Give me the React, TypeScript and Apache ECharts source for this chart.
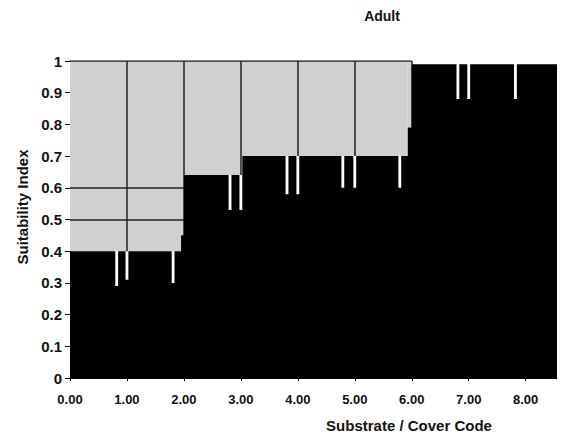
import React, { useEffect, useRef } from "react";
import * as echarts from "echarts";

// Step profile of the suitability curve (value holds from each start to the next)
const segStart = [0, 1.95, 2.0, 3.0, 5.93, 6.0];
const segValue = [0.4, 0.45, 0.64, 0.7, 0.79, 0.99];
const xEnd = 8.55;

// Narrow dips in the curve
const dipAt = [0.82, 1.0, 1.81, 2.81, 3.0, 3.81, 4.0, 4.79, 5.0, 5.79, 6.81, 7.0, 7.82];
const dipValue = [0.29, 0.31, 0.3, 0.53, 0.53, 0.58, 0.58, 0.6, 0.6, 0.6, 0.88, 0.88, 0.88];

// Upper (shaded) region of the chart
const shadeEnd = 6;
const shadeTop = 1;

// Grid lines drawn through the shaded region
const vGridX = [1, 2, 3, 4, 5, 6];
const hGridY = [0.5, 0.6];
const hGridSpan = [0, 2];

const xTicks = [0, 1, 2, 3, 4, 5, 6, 7, 8];

const FONT = '"Liberation Sans", Arial, sans-serif';

function levelAt(x: number): number {
  let v = segValue[0];
  for (let i = 0; i < segStart.length; i++) if (segStart[i] <= x + 1e-9) v = segValue[i];
  return v;
}

function buildProfile(): number[][] {
  const half = 0.025;
  const pts: number[][] = [];
  segStart.forEach((s, i) => {
    const covered = dipAt.some((d) => s > d - half && s < d + half);
    if (!covered) pts.push([s, segValue[i]]);
  });
  dipAt.forEach((d, i) => {
    pts.push([d - half, dipValue[i]]);
    pts.push([d + half, levelAt(d + half)]);
  });
  pts.sort((a, b) => a[0] - b[0]);
  pts.push([xEnd, levelAt(xEnd)]);
  return pts;
}

export default function App() {
  const ref = useRef<HTMLDivElement>(null);
  useEffect(() => {
    if (!ref.current) return;
    const chart = echarts.init(ref.current, null, { renderer: "svg" });

    const areaData: any[] = [];
    segStart.forEach((s, i) => {
      if (s >= shadeEnd) return;
      const e = Math.min(i + 1 < segStart.length ? segStart[i + 1] : shadeEnd, shadeEnd);
      areaData.push([{ coord: [s, segValue[i]] }, { coord: [e, shadeTop] }]);
    });

    const markData: any[] = [];
    vGridX.forEach((x) => {
      const lo = Math.min(levelAt(x - 0.01), levelAt(x));
      markData.push([{ coord: [x, lo] }, { coord: [x, shadeTop] }]);
    });
    hGridY.forEach((y) => markData.push([{ coord: [hGridSpan[0], y] }, { coord: [hGridSpan[1], y] }]));

    chart.setOption({
      animation: false,
      backgroundColor: "#ffffff",
      grid: { left: 70, right: 6, top: 61, bottom: 58, containLabel: false },
      xAxis: {
        type: "value",
        min: 0,
        max: xEnd,
        interval: 1,
        splitLine: { show: false },
        axisLine: { show: true, lineStyle: { color: "#000", width: 1 } },
        axisTick: { show: true, length: 3, lineStyle: { color: "#000" } },
        axisLabel: {
          margin: 15,
          fontFamily: FONT,
          fontSize: 13,
          fontWeight: "bold",
          color: "#111",
          showMaxLabel: false,
          formatter: (v: number) =>
            xTicks.some((t) => Math.abs(t - v) < 1e-6) ? v.toFixed(2) : "",
        },
      },
      yAxis: {
        type: "value",
        min: 0,
        max: 1,
        interval: 0.1,
        splitLine: { show: false },
        axisLine: { show: true, lineStyle: { color: "#000", width: 1 } },
        axisTick: { show: true, length: 5, lineStyle: { color: "#000" } },
        axisLabel: {
          margin: 8,
          fontFamily: FONT,
          fontSize: 15,
          fontWeight: "bold",
          color: "#111",
          formatter: (v: number) => {
            const r = Math.round(v * 10) / 10;
            return r === 0 ? "0" : r === 1 ? "1" : r.toFixed(1);
          },
        },
      },
      graphic: [
        {
          type: "text",
          x: 382,
          y: 16,
          style: {
            text: "Adult",
            font: `bold 14px ${FONT}`,
            fill: "#111",
            align: "center",
            verticalAlign: "middle",
          },
        },
        {
          type: "text",
          x: 409,
          y: 425,
          style: {
            text: "Substrate / Cover Code",
            font: `bold 15px ${FONT}`,
            fill: "#111",
            align: "center",
            verticalAlign: "middle",
          },
        },
        {
          type: "text",
          x: 22,
          y: 207,
          rotation: Math.PI / 2,
          style: {
            text: "Suitability Index",
            font: `bold 15px ${FONT}`,
            fill: "#111",
            align: "center",
            verticalAlign: "middle",
          },
        },
      ],
      series: [
        {
          type: "line",
          z: 2,
          symbol: "none",
          silent: true,
          data: [
            [0, shadeTop],
            [shadeEnd, shadeTop],
          ],
          lineStyle: { color: "#222", width: 1.5 },
          markArea: {
            z: 1,
            silent: true,
            itemStyle: { color: "#d0d0d0", opacity: 1, borderWidth: 0 },
            label: { show: false },
            data: areaData,
          },
          markLine: {
            z: 2,
            silent: true,
            symbol: "none",
            label: { show: false },
            lineStyle: { color: "#222", width: 1.5, type: "solid" },
            data: markData,
          },
        },
        {
          type: "line",
          z: 3,
          step: "end",
          symbol: "none",
          silent: true,
          data: buildProfile(),
          lineStyle: { color: "#000", width: 0 },
          areaStyle: { color: "#000", opacity: 1 },
        },
      ],
    });
    return () => chart.dispose();
  }, []);
  return (
    <div
      ref={ref}
      style={{ position: "fixed", left: 0, top: 0, width: 563, height: 436 }}
    />
  );
}
